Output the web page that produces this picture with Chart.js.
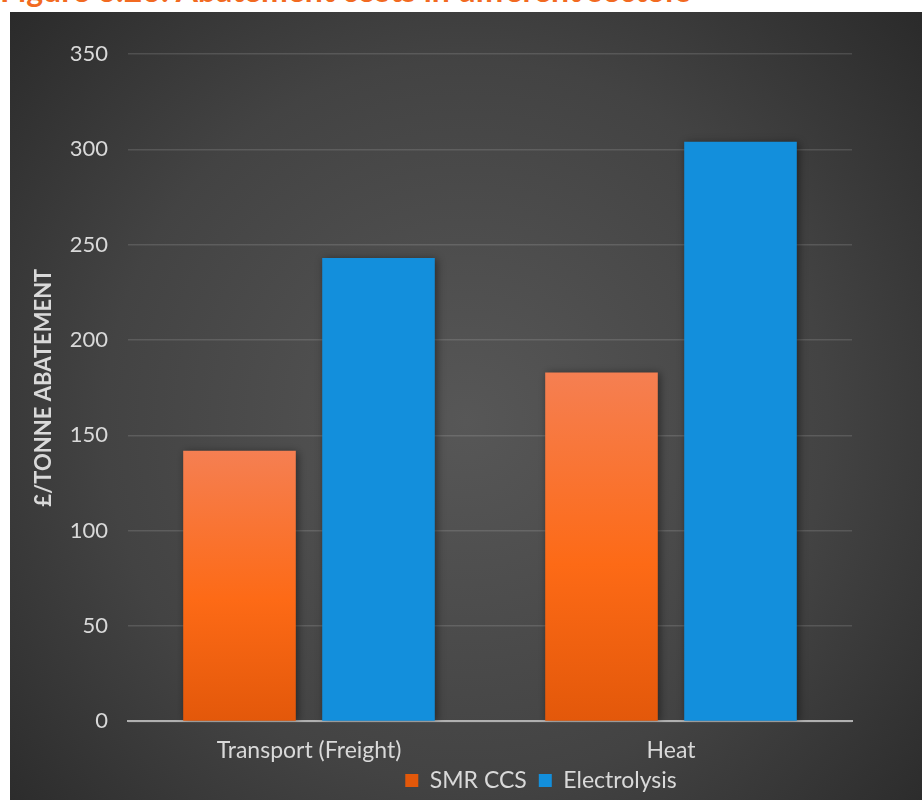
<!DOCTYPE html>
<html>
<head>
<meta charset="utf-8">
<script src="https://cdn.jsdelivr.net/npm/chart.js@4.4.1/dist/chart.umd.min.js"></script>
<style>
  html, body { margin: 0; padding: 0; background: #fff; overflow: hidden; }
  body { width: 922px; height: 800px; position: relative; }
  #fig-title {
    position: absolute; left: 0; top: -30px; line-height: 38px;
    font: bold 32px Lato, sans-serif; color: #f26a21; white-space: nowrap;
  }
  #wrap { position: absolute; left: 10px; top: 12px; width: 912px; height: 788px; }
</style>
</head>
<body>
<div id="fig-title">Figure 6.26: Abatement costs in different sectors</div>
<div id="wrap"><canvas id="chart"></canvas></div>
<script>
const sectors = ["Transport (Freight)", "Heat"];
const smrCcs = [142, 183];
const electrolysis = [243, 304];
const yTicks = [0, 50, 100, 150, 200, 250, 300, 350];

const textColor = "#d9d9d9";

// dark panel with a soft lighter centre
const panelBackground = {
  id: "panelBackground",
  beforeDraw(chart) {
    const { ctx, width, height } = chart;
    const g = ctx.createRadialGradient(width * 0.5, height * 0.52, 0, width * 0.5, height * 0.52, width * 0.72);
    g.addColorStop(0, "#575757");
    g.addColorStop(0.55, "#434343");
    g.addColorStop(1, "#262626");
    ctx.save();
    ctx.fillStyle = g;
    ctx.fillRect(0, 0, width, height);
    ctx.restore();
  },
};

// soft drop shadow behind the bars
const barShadow = {
  id: "barShadow",
  beforeDatasetsDraw(chart) {
    const ctx = chart.ctx;
    ctx.save();
    ctx.shadowColor = "rgba(0,0,0,0.45)";
    ctx.shadowBlur = 8;
    ctx.shadowOffsetX = 2;
    ctx.shadowOffsetY = 1;
  },
  afterDatasetsDraw(chart) {
    chart.ctx.restore();
  },
};

// legend sits right of centre and tucked up under the axis labels
const legendShift = {
  id: "legendShift",
  afterLayout(chart) {
    const lg = chart.legend;
    lg.left += 110;
    lg.right += 110;
    lg.top -= 14;
    lg.bottom -= 14;
  },
};

function orangeFill(context) {
  const chart = context.chart;
  if (!chart.chartArea || context.parsed === undefined) return "#f56a1c";
  const y = chart.scales.y;
  const top = y.getPixelForValue(context.parsed.y);
  const base = y.getPixelForValue(0);
  const g = chart.ctx.createLinearGradient(0, top, 0, base);
  g.addColorStop(0, "#f57f52");
  g.addColorStop(0.55, "#fd6a16");
  g.addColorStop(1, "#e3580a");
  return g;
}

const ctx = document.getElementById("chart").getContext("2d");
new Chart(ctx, {
  type: "bar",
  data: {
    labels: sectors,
    datasets: [
      {
        label: "SMR CCS",
        data: smrCcs,
        backgroundColor: orangeFill,
        categoryPercentage: 0.768,
        barPercentage: 0.81,
      },
      {
        label: "Electrolysis",
        data: electrolysis,
        backgroundColor: "#138fdc",
        categoryPercentage: 0.768,
        barPercentage: 0.81,
      },
    ],
  },
  options: {
    responsive: true,
    maintainAspectRatio: false,
    animation: false,
    layout: { padding: { top: 42, right: 70, bottom: -16, left: 0 } },
    scales: {
      x: {
        grid: { display: false },
        border: { color: "#b0b0b0", width: 2 },
        ticks: {
          color: textColor,
          padding: 7,
          font: { family: "Lato", size: 23 },
        },
      },
      y: {
        min: 0,
        max: 350,
        afterBuildTicks(scale) {
          scale.ticks = yTicks.map((v) => ({ value: v }));
        },
        afterFit(scale) {
          scale.width = 118;
        },
        grid: { color: "rgba(255,255,255,0.13)", lineWidth: 1.5, drawTicks: false },
        border: { display: false },
        ticks: {
          color: textColor,
          padding: 20,
          font: { family: "Lato", size: 22 },
        },
        title: {
          display: true,
          text: "£/TONNE ABATEMENT",
          color: textColor,
          font: { family: "Lato", size: 22, weight: "bold" },
          padding: { top: 21, bottom: 0 },
        },
      },
    },
    plugins: {
      legend: {
        position: "bottom",
        labels: {
          color: textColor,
          boxWidth: 13,
          boxHeight: 13,
          padding: 12,
          font: { family: "Lato", size: 23 },
        },
      },
      tooltip: { enabled: false },
    },
  },
  plugins: [panelBackground, barShadow, legendShift],
});
</script>
</body>
</html>
